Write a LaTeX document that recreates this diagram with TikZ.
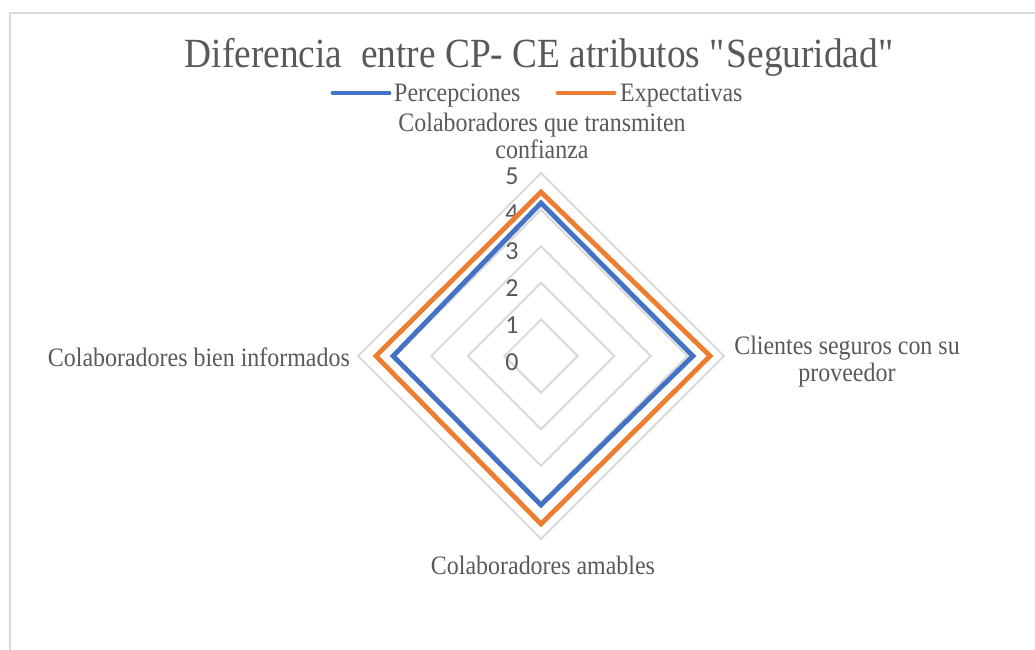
\documentclass[tikz,border=0pt]{standalone}
\usepackage{fontspec}
\setmainfont{Liberation Serif}[FakeStretch=0.9]
\newfontfamily\axisfont{Carlito}
\usetikzlibrary{positioning}
\definecolor{percblue}{HTML}{4472C4}
\definecolor{expecorange}{HTML}{ED7D31}
\definecolor{gridgray}{HTML}{D9D9D9}
\definecolor{labelgray}{HTML}{595959}
\tikzset{
    catlabel/.style = {
        align=center,
        inner sep=0pt,
        text=labelgray,
        font=\fontsize{26.6}{27}\selectfont
    },
    titlelabel/.style = {
        catlabel,
        font=\fontsize{41.5}{45}\selectfont
    },
    axislabel/.style = {
        inner sep=0pt,
        text=labelgray,
        font=\axisfont\fontsize{26}{30}\selectfont
    },
    gridline/.style = {
        draw=gridgray,
        line width=2pt
    },
    percline/.style = {
        draw=percblue,
        line width=4.8pt
    },
    expecline/.style = {
        draw=expecorange,
        line width=4.8pt
    }
}

\begin{document}
\begin{tikzpicture}[x=1pt,y=-1pt]
    \useasboundingbox (0,0) rectangle (1035,649);
    % chart area frame
    \draw[gridline] (10,660) -- (10,13) -- (1045,13);

    % title and legend
    \node [titlelabel, anchor=base] (title) at (540,67) {Diferencia\ \ entre CP- CE atributos \textquotedbl Seguridad\textquotedbl};
    \coordinate (legPerc) at (333,93);
    \coordinate (legExpec) at (558,93);
    \draw [percline, line cap=round] (legPerc) -- ++(56,0);
    \draw [expecline, line cap=round] (legExpec) -- ++(56,0);
    \node [catlabel, anchor=base west] (legPercText) at (394,101) {Percepciones};
    \node [catlabel, anchor=base west] (legExpecText) at (620,101) {Expectativas};

    % rings and axis values
    \coordinate (ctr) at (541,356);
    \foreach \v in {1,...,5}{
        \pgfmathsetmacro{\r}{36.6*\v}
        \draw [gridline] (ctr) ++(0,-\r) -- ++(\r,\r) -- ++(-\r,\r) -- ++(-\r,-\r) -- cycle;
    }
    \foreach \v in {0,...,5}
        \node [axislabel] (tick\v) at (512,{362-37.1*\v}) {\v};

    % series
    \draw [expecline] (541,{356-36.6*4.48}) -- ({541+36.6*4.62},356)
        -- (541,{356+36.6*4.59}) -- ({541-36.6*4.51},356) -- cycle;
    \draw [percline] (541,{356-36.6*4.18}) -- ({541+36.6*4.15},356)
        -- (541,{356+36.6*4.07}) -- ({541-36.6*4.04},356) -- cycle;

    % categories (base = last line)
    \node [catlabel, anchor=base] (catTop) at (542,158) {Colaboradores que transmiten\\confianza};
    \node [catlabel, anchor=base] (catRight) at (847,381) {Clientes seguros con su\\proveedor};
    \node [catlabel, anchor=base east] (catLeft) at (350,366) {Colaboradores bien informados};
    \node [catlabel, anchor=base] (catBottom) at (543,574) {Colaboradores amables};
\end{tikzpicture}
\end{document}
